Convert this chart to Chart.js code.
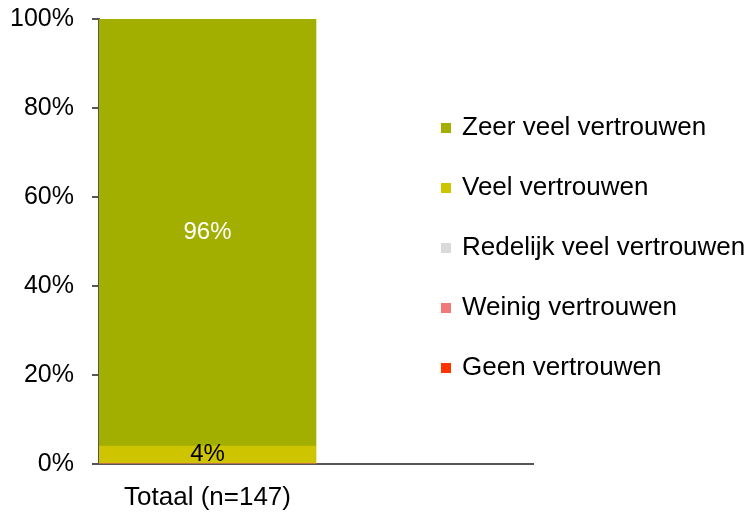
<!DOCTYPE html>
<html>
<head>
<meta charset="utf-8">
<script src="https://cdn.jsdelivr.net/npm/chart.js@4"></script>
<style>
    html, body { margin: 0; padding: 0; background: #fff; }
    #wrap { width: 747px; height: 516px; }
</style>
</head>
<body>
<div id="wrap"><canvas id="vertrouwenChart"></canvas></div>
<script>
// Categorieen (tweede is leeg, zoals in het origineel)
const categories = ['Totaal (n=147)', ''];

// Reeksen, van onder naar boven gestapeld
const seriesLabels = ['Geen vertrouwen', 'Weinig vertrouwen', 'Redelijk veel vertrouwen', 'Veel vertrouwen', 'Zeer veel vertrouwen'];
const geenValues = [0, null];
const weinigValues = [0, null];
const redelijkValues = [0, null];
const veelValues = [4, null];
const zeerVeelValues = [96, null];
const seriesColors = ['#FF3300', '#F07878', '#D9D9D9', '#CFC400', '#A2AE00'];
const labelColors = ['#000', '#000', '#000', '#000', '#fff'];

const yTicks = [0, 20, 40, 60, 80, 100];

const font = "'Liberation Sans', Arial, sans-serif";

const allValues = [geenValues, weinigValues, redelijkValues, veelValues, zeerVeelValues];
const datasets = allValues.map((vals, i) => ({
    label: seriesLabels[i],
    data: vals,
    backgroundColor: seriesColors[i],
    borderWidth: 0
}));

// Waarden in de balk tekenen
const barLabels = {
    id: 'barLabels',
    afterDatasetsDraw(chart) {
        const ctx = chart.ctx;
        ctx.save();
        ctx.font = '24px ' + font;
        ctx.textAlign = 'center';
        ctx.textBaseline = 'middle';
        chart.data.datasets.forEach((ds, i) => {
            chart.getDatasetMeta(i).data.forEach((bar, j) => {
                const v = ds.data[j];
                if (!v) return;
                ctx.fillStyle = labelColors[i];
                ctx.fillText(v + '%', bar.x, (bar.y + bar.base) / 2);
            });
        });
        ctx.restore();
    }
};

// Legenda rechts, omgekeerde volgorde
const sideLegend = {
    id: 'sideLegend',
    afterDraw(chart) {
        const ctx = chart.ctx;
        const area = chart.chartArea;
        const x = area.right - 92;
        let y = area.top + 109;
        ctx.save();
        ctx.font = '26px ' + font;
        ctx.textBaseline = 'middle';
        ctx.textAlign = 'left';
        for (let i = chart.data.datasets.length - 1; i >= 0; i--) {
            const ds = chart.data.datasets[i];
            ctx.fillStyle = ds.backgroundColor;
            ctx.fillRect(x, y - 5, 10, 10);
            ctx.fillStyle = '#000';
            ctx.fillText(ds.label, x + 21, y);
            y += 60;
        }
        ctx.restore();
    }
};

const ctx = document.getElementById('vertrouwenChart').getContext('2d');
const chart = new Chart(ctx, {
    type: 'bar',
    data: {
        labels: categories,
        datasets: datasets
    },
    options: {
        responsive: true,
        maintainAspectRatio: false,
        animation: false,
        layout: {
            padding: { top: 19, right: 214, bottom: 4, left: 10 }
        },
        datasets: {
            bar: { barPercentage: 1, categoryPercentage: 1 }
        },
        plugins: {
            legend: { display: false },
            tooltip: { enabled: false }
        },
        scales: {
            x: {
                stacked: true,
                grid: { display: false, drawTicks: false },
                border: { display: true, color: '#555', width: 2 },
                afterFit: (axis) => { axis.height = 48; },
                ticks: {
                    color: '#000',
                    padding: 18,
                    maxRotation: 0,
                    font: { family: font, size: 26 }
                }
            },
            y: {
                stacked: true,
                min: 0,
                max: 100,
                afterBuildTicks: (axis) => {
                    axis.ticks = yTicks.map(v => ({ value: v }));
                },
                afterFit: (axis) => {
                    axis.width = 89;
                    axis.paddingTop = 0;
                    axis.paddingBottom = 0;
                },
                grid: {
                    drawOnChartArea: false,
                    drawTicks: true,
                    tickLength: 7,
                    color: '#555',
                    lineWidth: 2
                },
                border: { display: true, color: '#555', width: 2 },
                ticks: {
                    color: '#000',
                    padding: 18,
                    font: { family: font, size: 25 },
                    callback: (v) => v + '%'
                }
            }
        }
    },
    plugins: [barLabels, sideLegend]
});
</script>
</body>
</html>
